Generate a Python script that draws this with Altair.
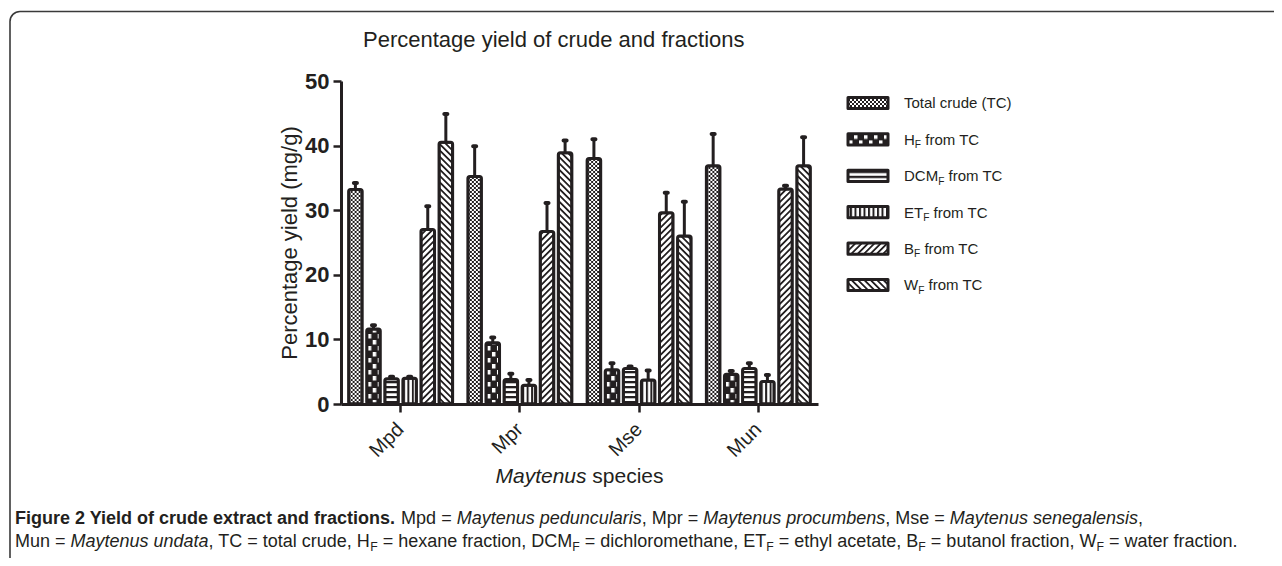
import altair as alt
import pandas as pd
import jinja2

# ---------------- data ----------------
SPECIES = ["Mpd", "Mpr", "Mse", "Mun"]
SERIES = ["TC", "HF", "DCMF", "ETF", "BF", "WF"]

TC_MEAN = [33.2, 35.2, 38.0, 36.9]
TC_ERR = [1.0, 4.7, 3.0, 4.9]
HF_MEAN = [11.6, 9.5, 5.3, 4.6]
HF_ERR = [0.6, 0.8, 1.0, 0.5]
DCM_MEAN = [3.9, 3.8, 5.5, 5.5]
DCM_ERR = [0.3, 0.9, 0.3, 0.8]
ET_MEAN = [4.0, 2.9, 3.7, 3.5]
ET_ERR = [0.2, 0.8, 1.5, 1.0]
BF_MEAN = [27.0, 26.7, 29.6, 33.3]
BF_ERR = [3.6, 4.4, 3.1, 0.5]
WF_MEAN = [40.5, 38.9, 26.0, 36.9]
WF_ERR = [4.4, 1.9, 5.3, 4.4]

Y_TICKS = [0, 10, 20, 30, 40, 50]

LEGEND_MAIN = ["Total crude (TC)", "H", "DCM", "ET", "B", "W"]
LEGEND_SUB = ["", "F", "F", "F", "F", "F"]
LEGEND_REST = ["", " from TC", " from TC", " from TC", " from TC", " from TC"]

TITLE = "Percentage yield of crude and fractions"
Y_TITLE = "Percentage yield (mg/g)"
X_TITLE = [("Maytenus", "ital"), (" species", "reg")]
CAPTION_1 = [("Figure 2 Yield of crude extract and fractions.", "bold"), (" Mpd = ", "reg"),
             ("Maytenus peduncularis", "ital"), (", Mpr = ", "reg"), ("Maytenus procumbens", "ital"),
             (", Mse = ", "reg"), ("Maytenus senegalensis", "ital"), (",", "reg")]
CAPTION_2 = [("Mun = ", "reg"), ("Maytenus undata", "ital"), (", TC = total crude, H", "reg"), ("F", "sub"),
             (" = hexane fraction, DCM", "reg"), ("F", "sub"), (" = dichloromethane, ET", "reg"), ("F", "sub"),
             (" = ethyl acetate, B", "reg"), ("F", "sub"), (" = butanol fraction, W", "reg"), ("F", "sub"),
             (" = water fraction.", "reg")]

MEANS = [TC_MEAN, HF_MEAN, DCM_MEAN, ET_MEAN, BF_MEAN, WF_MEAN]
ERRS = [TC_ERR, HF_ERR, DCM_ERR, ET_ERR, BF_ERR, WF_ERR]
rows = []
for s, m_list, e_list in zip(SERIES, MEANS, ERRS):
    for sp, m, e in zip(SPECIES, m_list, e_list):
        rows.append({"species": sp, "series": s, "mean": m, "top": m + e})
df = pd.DataFrame(rows)

# ---------------- styles / layout ----------------
FONT = "Liberation Sans"
INK = "#231f20"
W, H = 477, 323
PAD = {"left": 333, "top": 73, "right": 456, "bottom": 154}

PATTERN_IDS = ["pTC", "pHF", "pDCM", "pET", "pBF", "pWF"]
FILLS = ["url(#%s)" % p for p in PATTERN_IDS]
PATTERN_DEFS = (
    '<pattern id="pTC" patternUnits="userSpaceOnUse" width="4" height="4">'
    '<rect width="4" height="4" fill="#ffffff"/>'
    '<rect width="2" height="2" fill="INK"/><rect x="2" y="2" width="2" height="2" fill="INK"/></pattern>'
    '<pattern id="pHF" patternUnits="userSpaceOnUse" width="10" height="12">'
    '<rect width="10" height="12" fill="INK"/>'
    '<rect x="1" y="1" width="3.5" height="4.5" fill="#ffffff"/>'
    '<rect x="6" y="7" width="3.5" height="4.5" fill="#ffffff"/></pattern>'
    '<pattern id="pDCM" patternUnits="userSpaceOnUse" width="6" height="5">'
    '<rect width="6" height="5" fill="#ffffff"/><rect width="6" height="2.3" fill="INK"/></pattern>'
    '<pattern id="pET" patternUnits="userSpaceOnUse" width="4.5" height="6">'
    '<rect width="4.5" height="6" fill="#ffffff"/><rect width="2" height="6" fill="INK"/></pattern>'
    '<pattern id="pBF" patternUnits="userSpaceOnUse" width="4.5" height="4.5" patternTransform="rotate(45)">'
    '<rect width="4.5" height="4.5" fill="#ffffff"/><rect width="1.8" height="4.5" fill="INK"/></pattern>'
    '<pattern id="pWF" patternUnits="userSpaceOnUse" width="4.5" height="4.5" patternTransform="rotate(-45)">'
    '<rect width="4.5" height="4.5" fill="#ffffff"/><rect width="1.8" height="4.5" fill="INK"/></pattern>'
).replace("INK", INK)

PAGE = jinja2.Template(
    """<!DOCTYPE html>
<html>
<head>
<meta charset="utf-8">
<style>
  #{{ output_div }}.vega-embed { width: 100%; display: flex; }
</style>
<script type="text/javascript" src="{{ base_url }}/vega@{{ vega_version }}"></script>
<script type="text/javascript" src="{{ base_url }}/vega-lite@{{ vegalite_version }}"></script>
<script type="text/javascript" src="{{ base_url }}/vega-embed@{{ vegaembed_version }}"></script>
</head>
<body>
<svg width="0" height="0" style="position:absolute"><defs>"""
    + PATTERN_DEFS
    + """</defs></svg>
<div id="{{ output_div }}"></div>
<script type="text/javascript">
  var spec = {{ spec }};
  var embedOpt = {{ embed_options }};
  vegaEmbed("#{{ output_div }}", spec, embedOpt).catch(function (e) { console.error(e); });
</script>
</body>
</html>"""
)

# Arial / Liberation Sans advance widths (1/1000 em)
_LC = "abcdefghijklmnopqrstuvwxyz"
_UC = "ABCDEFGHIJKLMNOPQRSTUVWXYZ"
_LC_REG = dict(zip(_LC, [556, 556, 500, 556, 556, 278, 556, 556, 222, 222, 500, 222, 833, 556, 556, 556, 556, 333, 500, 278, 556, 500, 722, 500, 500, 500]))
_UC_REG = dict(zip(_UC, [667, 667, 722, 722, 667, 611, 778, 722, 278, 500, 667, 556, 833, 722, 778, 667, 778, 722, 667, 611, 722, 667, 944, 667, 667, 611]))
_LC_BOLD = dict(zip(_LC, [556, 611, 556, 611, 556, 333, 611, 611, 278, 278, 556, 278, 889, 611, 611, 611, 611, 389, 556, 333, 611, 556, 778, 556, 556, 500]))
_UC_BOLD = dict(zip(_UC, [722, 722, 722, 722, 667, 611, 778, 722, 278, 556, 722, 611, 833, 722, 778, 667, 778, 722, 667, 611, 722, 667, 944, 667, 667, 611]))
_PUNCT = {" ": 278, ",": 278, ".": 278, "=": 584, "(": 333, ")": 333, "/": 278, "-": 333}


def text_width(s, size, bold=False):
    lc, uc = (_LC_BOLD, _UC_BOLD) if bold else (_LC_REG, _UC_REG)
    tot = 0
    for ch in s:
        tot += lc.get(ch) or uc.get(ch) or _PUNCT.get(ch) or 556
    return tot * size / 1000.0


SUB_SCALE, SUB_DROP = 0.68, 0.22


def lay_out(segments, x0, y0, size):
    out = []
    x = x0
    for text, kind in segments:
        bold = kind == "bold"
        fs = size * SUB_SCALE if kind == "sub" else size
        dy = size * SUB_DROP if kind == "sub" else 0.0
        lead = len(text) - len(text.lstrip(" "))
        body = text.strip(" ")
        if body:
            style = "ital" if kind == "ital" else ("bold" if bold else "reg")
            out.append({"text": body, "x": x + text_width(text[:lead], fs, bold),
                        "y": y0 + dy, "size": fs, "kind": style})
        x += text_width(text, fs, bold)
    return out


def seg_width(segments, size):
    return sum(text_width(t, size * SUB_SCALE if k == "sub" else size, k == "bold") for t, k in segments)


texts = []
texts += lay_out([(TITLE, "reg")], 22, -34, 22)
XT_SIZE = 21
texts += lay_out(X_TITLE, W / 2 - seg_width(X_TITLE, XT_SIZE) / 2, 402, XT_SIZE)
CAP_SIZE = 18
texts += lay_out(CAPTION_1, -326, 443, CAP_SIZE)
texts += lay_out(CAPTION_2, -326, 466, CAP_SIZE)

LEG_X_SYM, LEG_X_TXT, LEG_Y0, LEG_STEP, LEG_SIZE = 527, 563, 22, 36.4, 15
leg_rows = []
for i, s in enumerate(SERIES):
    cy = LEG_Y0 + i * LEG_STEP
    leg_rows.append({"series": s, "ly": cy})
    segs = [(LEGEND_MAIN[i], "reg")]
    if LEGEND_SUB[i]:
        segs.append((LEGEND_SUB[i], "sub"))
    if LEGEND_REST[i]:
        segs.append((LEGEND_REST[i], "reg"))
    texts += lay_out(segs, LEG_X_TXT, cy + 5.4, LEG_SIZE)
leg_df = pd.DataFrame(leg_rows)
txt_df = pd.DataFrame(texts)

# ---------------- encodings ----------------
X_AXIS = alt.Axis(title=None, labelAngle=-45, labelAlign="right", labelBaseline="middle",
                  labelFont=FONT, labelFontSize=20, labelColor=INK, labelPadding=14,
                  tickSize=8, tickWidth=2.5, tickColor=INK, domainColor=INK, domainWidth=3,
                  grid=False)
Y_AXIS = alt.Axis(values=Y_TICKS, title=Y_TITLE, titleFont=FONT, titleFontSize=22,
                  titleFontWeight="normal", titleColor=INK, titleAngle=270, titleX=-52,
                  titleY=H / 2, titleAlign="center", titleBaseline="middle",
                  labelFont=FONT, labelFontSize=22, labelFontWeight="bold", labelColor=INK,
                  labelPadding=4, tickSize=8, tickWidth=2.5, tickColor=INK,
                  domainColor=INK, domainWidth=3, grid=False)
Y_SCALE = alt.Scale(domain=[0, 50], nice=False)
X_ENC = alt.X("species:N", sort=SPECIES, scale=alt.Scale(paddingInner=0.09, paddingOuter=0.045), axis=X_AXIS)
XO_ENC = alt.XOffset("series:N", sort=SERIES,
                     scale=alt.Scale(domain=SERIES, paddingInner=0.25, paddingOuter=0.125))
COLOR = alt.Color("series:N", scale=alt.Scale(domain=SERIES, range=FILLS), legend=None)

one = pd.DataFrame({"k": [0]})
frame = alt.Chart(one).mark_rect(fillOpacity=0, stroke="#3a3a3a", strokeWidth=1.6, cornerRadius=10).encode(
    x=alt.value(-331), x2=alt.value(1000), y=alt.value(-69.5), y2=alt.value(600))

bars = alt.Chart(df).mark_bar(stroke=INK, strokeWidth=3, cornerRadius=2, strokeJoin="round").encode(
    x=X_ENC, xOffset=XO_ENC,
    y=alt.Y("mean:Q", scale=Y_SCALE, axis=Y_AXIS),
    color=COLOR)

err_rule = alt.Chart(df).mark_rule(color=INK, strokeWidth=3).encode(
    x=X_ENC, xOffset=XO_ENC,
    y=alt.Y("mean:Q", scale=Y_SCALE, axis=Y_AXIS), y2="top:Q")

err_cap = alt.Chart(df).mark_tick(color=INK, thickness=4, size=7, cornerRadius=2, opacity=1).encode(
    x=X_ENC, xOffset=XO_ENC,
    y=alt.Y("top:Q", scale=Y_SCALE, axis=Y_AXIS))

legend_sym = alt.Chart(leg_df).mark_point(
    shape="M-1,-0.28L1,-0.28L1,0.28L-1,0.28Z", size=1600, filled=True, opacity=1,
    stroke=INK, strokeWidth=3, strokeJoin="round").encode(
    x=alt.value(LEG_X_SYM),
    y=alt.Y("ly:Q", scale=None, axis=None),
    color=COLOR)


def text_layer(kind, weight, style):
    d = txt_df[txt_df["kind"] == kind]
    return alt.Chart(d).mark_text(font=FONT, fontWeight=weight, fontStyle=style, align="left",
                                  baseline="alphabetic", color=INK).encode(
        x=alt.X("x:Q", scale=None, axis=None),
        y=alt.Y("y:Q", scale=None, axis=None),
        size=alt.Size("size:Q", scale=None, legend=None),
        text="text:N")


chart = alt.layer(
    frame, bars, err_rule, err_cap, legend_sym,
    text_layer("reg", "normal", "normal"),
    text_layer("bold", "bold", "normal"),
    text_layer("ital", "normal", "italic"),
).properties(
    width=W, height=H, padding=PAD, autosize=alt.AutoSizeParams(type="none"),
    background="#ffffff",
).configure_view(strokeWidth=0)

try:
    chart.save("out.html", embed_options={"renderer": "svg", "actions": False}, template=PAGE)
except TypeError:
    chart.save("out.html", embed_options={"renderer": "svg", "actions": False})
